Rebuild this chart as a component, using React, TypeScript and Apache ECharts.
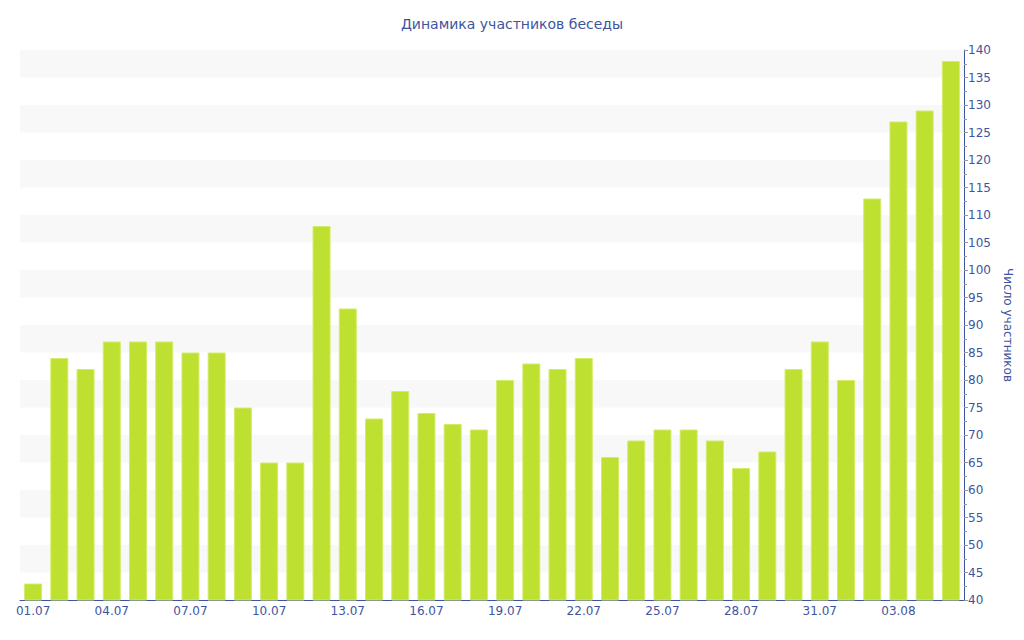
import React, { useEffect, useRef } from "react";
import * as echarts from "echarts";

const categories = [
  "01.07", "02.07", "03.07", "04.07", "05.07", "06.07", "07.07", "08.07", "09.07", "10.07",
  "11.07", "12.07", "13.07", "14.07", "15.07", "16.07", "17.07", "18.07", "19.07", "20.07",
  "21.07", "22.07", "23.07", "24.07", "25.07", "26.07", "27.07", "28.07", "29.07", "30.07",
  "31.07", "01.08", "02.08", "03.08", "04.08", "05.08",
];
const participants = [
  43, 84, 82, 87, 87, 87, 85, 85, 75, 65,
  65, 108, 93, 73, 78, 74, 72, 71, 80, 83,
  82, 84, 66, 69, 71, 71, 69, 64, 67, 82,
  87, 80, 113, 127, 129, 138,
];

const TEXT = "#3d55a0";
const FONT = "Verdana, 'DejaVu Sans', sans-serif";

export default function App() {
  const ref = useRef<HTMLDivElement>(null);
  useEffect(() => {
    const chart = echarts.init(ref.current!, undefined, { renderer: "svg" });
    chart.setOption({
      animation: false,
      backgroundColor: "#ffffff",
      title: {
        text: "Динамика участников беседы",
        left: "center",
        top: 12,
        textStyle: { color: TEXT, fontSize: 14, fontWeight: "normal", fontFamily: FONT },
      },
      grid: { left: 20, right: 60, top: 50, bottom: 40 },
      xAxis: {
        type: "category",
        data: categories,
        axisLine: { lineStyle: { color: TEXT, width: 1 } },
        axisTick: { alignWithLabel: true, interval: 2, length: 4, lineStyle: { color: TEXT } },
        axisLabel: { interval: 2, color: TEXT, fontSize: 12, fontFamily: FONT, margin: 5 },
        splitLine: { show: false },
      },
      yAxis: {
        type: "value",
        position: "right",
        min: 40,
        max: 140,
        interval: 5,
        name: "Число участников",
        nameLocation: "middle",
        nameRotate: -90,
        nameGap: 38,
        nameTextStyle: { color: TEXT, fontSize: 12, fontFamily: FONT },
        axisLine: { show: true, lineStyle: { color: TEXT, width: 1 } },
        axisTick: { show: true, length: 4, lineStyle: { color: "#999" } },
        minorTick: { show: true, splitNumber: 2, length: 3, lineStyle: { color: "#999" } },
        axisLabel: { color: TEXT, fontSize: 12, fontFamily: FONT, margin: 4 },
        splitLine: { show: false },
        splitArea: { show: true, areaStyle: { color: ["rgba(255,255,255,0)", "#f8f8f8"] } },
      },
      series: [
        {
          type: "bar",
          data: participants,
          barWidth: 18,
          itemStyle: { color: "#bde031", borderColor: "#d2ec6a", borderWidth: 1 },
        },
      ],
    });
    return () => chart.dispose();
  }, []);
  return <div ref={ref} style={{ width: 1024, height: 640, position: "absolute", left: 0, top: 0 }} />;
}
